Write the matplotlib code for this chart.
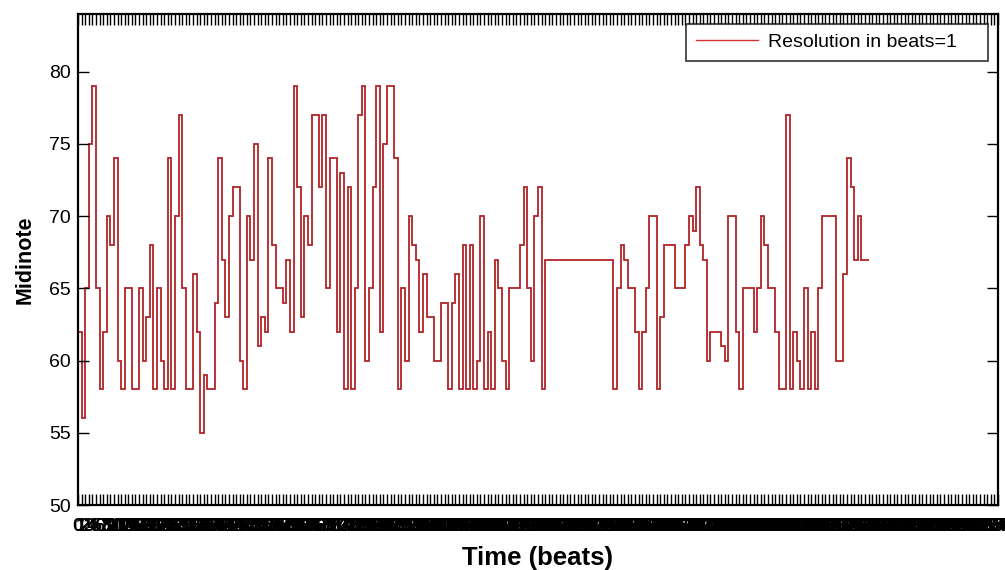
import matplotlib
matplotlib.use("Agg")
import matplotlib.pyplot as plt
import numpy as np

plt.rcParams['font.family'] = ['Liberation Sans', 'DejaVu Sans']

# Midinote per beat (resolution 1 beat)
midinote = [
    62, 56, 65, 75, 79, 65, 58, 62, 70, 68,
    74, 60, 58, 65, 65, 58, 58, 65, 60, 63,
    68, 58, 65, 60, 58, 74, 58, 70, 77, 65,
    58, 58, 66, 62, 55, 59, 58, 58, 64, 74,
    67, 63, 70, 72, 72, 60, 58, 70, 67, 75,
    61, 63, 62, 74, 68, 65, 65, 64, 67, 62,
    79, 72, 63, 70, 68, 77, 77, 72, 77, 65,
    74, 74, 62, 73, 58, 72, 58, 65, 77, 79,
    60, 65, 72, 79, 62, 75, 79, 79, 74, 58,
    65, 60, 70, 68, 67, 62, 66, 63, 63, 60,
    60, 64, 64, 58, 64, 66, 58, 68, 58, 68,
    58, 60, 70, 58, 62, 58, 67, 65, 60, 58,
    65, 65, 65, 68, 72, 65, 60, 70, 72, 58,
    67, 67, 67, 67, 67, 67, 67, 67, 67, 67,
    67, 67, 67, 67, 67, 67, 67, 67, 67, 58,
    65, 68, 67, 65, 65, 62, 58, 62, 65, 70,
    70, 58, 63, 68, 68, 68, 65, 65, 65, 68,
    70, 69, 72, 68, 67, 60, 62, 62, 62, 61,
    60, 70, 70, 62, 58, 65, 65, 65, 62, 65,
    70, 68, 65, 65, 62, 58, 58, 77, 58, 62,
    60, 58, 65, 58, 62, 58, 65, 70, 70, 70,
    70, 60, 60, 66, 74, 72, 67, 70, 67, 67,
]
n_ticks = 256
xticks = list(range(n_ticks + 1))
xticklabels = [str(t) for t in xticks]
yticks = [50, 55, 60, 65, 70, 75, 80]

fig = plt.figure(figsize=(10.05, 5.70), dpi=100)
ax = fig.add_axes([0.0776, 0.114, 0.9154, 0.8614])

edges = np.arange(len(midinote) + 1)
ax.stairs(midinote, edges, baseline=None, color='#b02428', linewidth=1.3,
          label='Resolution in beats=1    ')

ax.set_xlim(0, n_ticks)
ax.set_ylim(50, 84)
ax.set_yticks(yticks)
ax.set_yticklabels([str(v) for v in yticks], fontsize=14)
ax.set_xticks(xticks)
ax.set_xticklabels(xticklabels, fontsize=14, fontweight='bold')

ax.tick_params(axis='both', direction='in', top=True, right=True, length=8, width=1.0)
ax.tick_params(axis='x', pad=9)
ax.tick_params(axis='y', pad=5)
for s in ax.spines.values():
    s.set_linewidth(1.6)

ax.set_xlabel('Time (beats)', fontsize=18.5, fontweight='bold', labelpad=8)
ax.set_ylabel('Midinote', fontsize=15.5, fontweight='bold', labelpad=10)

leg = ax.legend(loc='upper right', fontsize=14, frameon=True, fancybox=False,
                edgecolor='black', borderaxespad=0.5, handlelength=3.2,
                handletextpad=0.5, borderpad=0.5)
leg.get_frame().set_linewidth(1.2)
leg.get_lines()[0].set_linewidth(1.0)
leg.get_lines()[0].set_color('#d83030')

fig.savefig('out.png', dpi=100)
